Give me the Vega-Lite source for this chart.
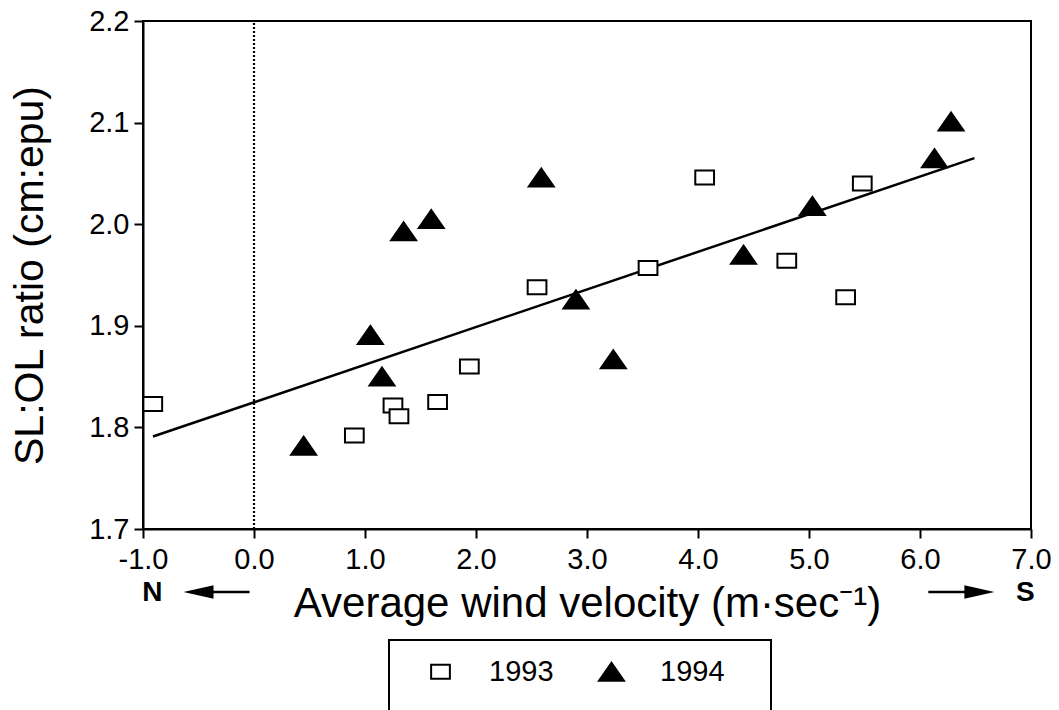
{
  "$schema": "https://vega.github.io/schema/vega-lite/v6.json",
  "autosize": {"type": "none"},
  "padding": {"left": 143, "top": 21, "right": 28, "bottom": 181},
  "width": 888,
  "height": 508,
  "background": "white",
  "config": {
    "view": {"stroke": "black", "strokeWidth": 2},
    "font": "Liberation Sans",
    "axis": {
      "domainColor": "black", "domainWidth": 2, "tickColor": "black", "tickWidth": 2,
      "tickSize": 9, "grid": false, "labelColor": "black", "titleColor": "black",
      "labelFont": "Liberation Sans", "titleFont": "Liberation Sans",
      "labelFontSize": 29, "titleFontSize": 40, "titleFontWeight": "normal"
    },
    "legend": {
      "orient": "none", "legendX": 246, "legendY": 619, "direction": "horizontal",
      "strokeColor": "black", "strokeWidth": 2, "padding": 17,
      "symbolOffset": 20, "labelOffset": 34, "columnPadding": 23,
      "labelFont": "Liberation Sans", "labelFontSize": 29, "labelColor": "black",
      "symbolSize": 625, "symbolStrokeWidth": 2, "symbolStrokeColor": "black",
      "titleOrient": "right", "titleFontSize": 42, "titlePadding": 29, "titleAnchor": "start"
    }
  },
  "datasets": {
    "pts": [
      {"year": "1993", "x": -0.912, "y": 1.823},
      {"year": "1993", "x": 0.904, "y": 1.792},
      {"year": "1993", "x": 1.252, "y": 1.8215},
      {"year": "1993", "x": 1.306, "y": 1.811},
      {"year": "1993", "x": 1.654, "y": 1.825},
      {"year": "1993", "x": 1.94, "y": 1.86},
      {"year": "1993", "x": 2.55, "y": 1.938},
      {"year": "1993", "x": 3.55, "y": 1.957},
      {"year": "1993", "x": 4.06, "y": 2.046},
      {"year": "1993", "x": 4.8, "y": 1.964},
      {"year": "1993", "x": 5.33, "y": 1.928},
      {"year": "1993", "x": 5.48, "y": 2.04},
      {"year": "1994", "x": 0.447, "y": 1.782},
      {"year": "1994", "x": 1.048, "y": 1.891},
      {"year": "1994", "x": 1.153, "y": 1.85},
      {"year": "1994", "x": 1.348, "y": 1.993},
      {"year": "1994", "x": 1.597, "y": 2.005},
      {"year": "1994", "x": 2.588, "y": 2.046},
      {"year": "1994", "x": 2.9, "y": 1.926},
      {"year": "1994", "x": 3.237, "y": 1.867},
      {"year": "1994", "x": 4.41, "y": 1.97},
      {"year": "1994", "x": 5.03, "y": 2.018},
      {"year": "1994", "x": 6.13, "y": 2.065},
      {"year": "1994", "x": 6.28, "y": 2.101}
    ],
    "fit": [{"x": -0.91, "y": 1.791}, {"x": 6.49, "y": 2.065}],
    "zero": [{"x": 0, "y": 1.7, "y2": 2.2}],
    "dirs": [{"t": "N", "x": -0.916, "y": 1.637}, {"t": "S", "x": 6.95, "y": 1.637}],
    "stems": [{"x": -0.40, "x2": -0.04, "y": 1.638}, {"x": 6.075, "x2": 6.44, "y": 1.638}],
    "headN": [{"x": -0.50, "y": 1.638}],
    "headS": [{"x": 6.535, "y": 1.638}]
  },
  "encoding": {
    "x": {
      "field": "x", "type": "quantitative",
      "scale": {"domain": [-1, 7], "nice": false, "zero": false},
      "axis": {
        "title": "Average wind velocity (m·sec⁻¹)",
        "titleFontSize": 42,
        "values": [-1, 0, 1, 2, 3, 4, 5, 6, 7],
        "labelExpr": "datum.value < 0 ? '-' + format(-datum.value, '.1f') : format(datum.value, '.1f')",
        "labelPadding": 7, "titlePadding": 9, "labelFlush": false, "labelOverlap": false
      }
    },
    "y": {
      "field": "y", "type": "quantitative",
      "scale": {"domain": [1.7, 2.2], "nice": false, "zero": false},
      "axis": {
        "title": "SL:OL ratio (cm:epu)",
        "titleFontSize": 41,
        "values": [1.7, 1.8, 1.9, 2.0, 2.1, 2.2],
        "format": ".1f", "labelPadding": 5, "titlePadding": 37, "labelFlush": false, "labelOverlap": false
      }
    }
  },
  "layer": [
    {
      "data": {"name": "zero"},
      "mark": {"type": "rule", "stroke": "black", "strokeWidth": 2.2, "strokeDash": [2, 2]},
      "encoding": {"y2": {"field": "y2"}}
    },
    {
      "data": {"name": "fit"},
      "mark": {"type": "line", "stroke": "black", "strokeWidth": 2.5},
      "encoding": {}
    },
    {
      "data": {"name": "pts"},
      "mark": {"type": "point", "strokeWidth": 2, "opacity": 1, "size": 625},
      "encoding": {
        "shape": {
          "field": "year", "type": "nominal",
          "scale": {"domain": ["1993", "1994"], "range": ["M-0.75,-0.56L0.75,-0.56L0.75,0.56L-0.75,0.56Z", "M0,-0.72L1,0.72L-1,0.72Z"]},
          "legend": {"title": "\u00a0"}
        },
        "fill": {
          "field": "year", "type": "nominal",
          "scale": {"domain": ["1993", "1994"], "range": ["white", "black"]},
          "legend": {"title": "\u00a0"}
        },
        "stroke": {
          "field": "year", "type": "nominal",
          "scale": {"domain": ["1993", "1994"], "range": ["black", "black"]},
          "legend": {"title": "\u00a0"}
        }
      }
    },
    {
      "data": {"name": "dirs"},
      "mark": {"type": "text", "font": "Liberation Sans", "fontSize": 28, "fontWeight": "bold", "color": "black", "baseline": "middle", "align": "center"},
      "encoding": {"text": {"field": "t"}}
    },
    {
      "data": {"name": "stems"},
      "mark": {"type": "rule", "stroke": "black", "strokeWidth": 2.5},
      "encoding": {"x2": {"field": "x2"}}
    },
    {
      "data": {"name": "headN"},
      "mark": {"type": "point", "shape": "M-1,0L1,-0.45L1,0.45Z", "filled": true, "color": "black", "opacity": 1, "size": 900},
      "encoding": {}
    },
    {
      "data": {"name": "headS"},
      "mark": {"type": "point", "shape": "M1,0L-1,-0.45L-1,0.45Z", "filled": true, "color": "black", "opacity": 1, "size": 900},
      "encoding": {}
    }
  ]
}
